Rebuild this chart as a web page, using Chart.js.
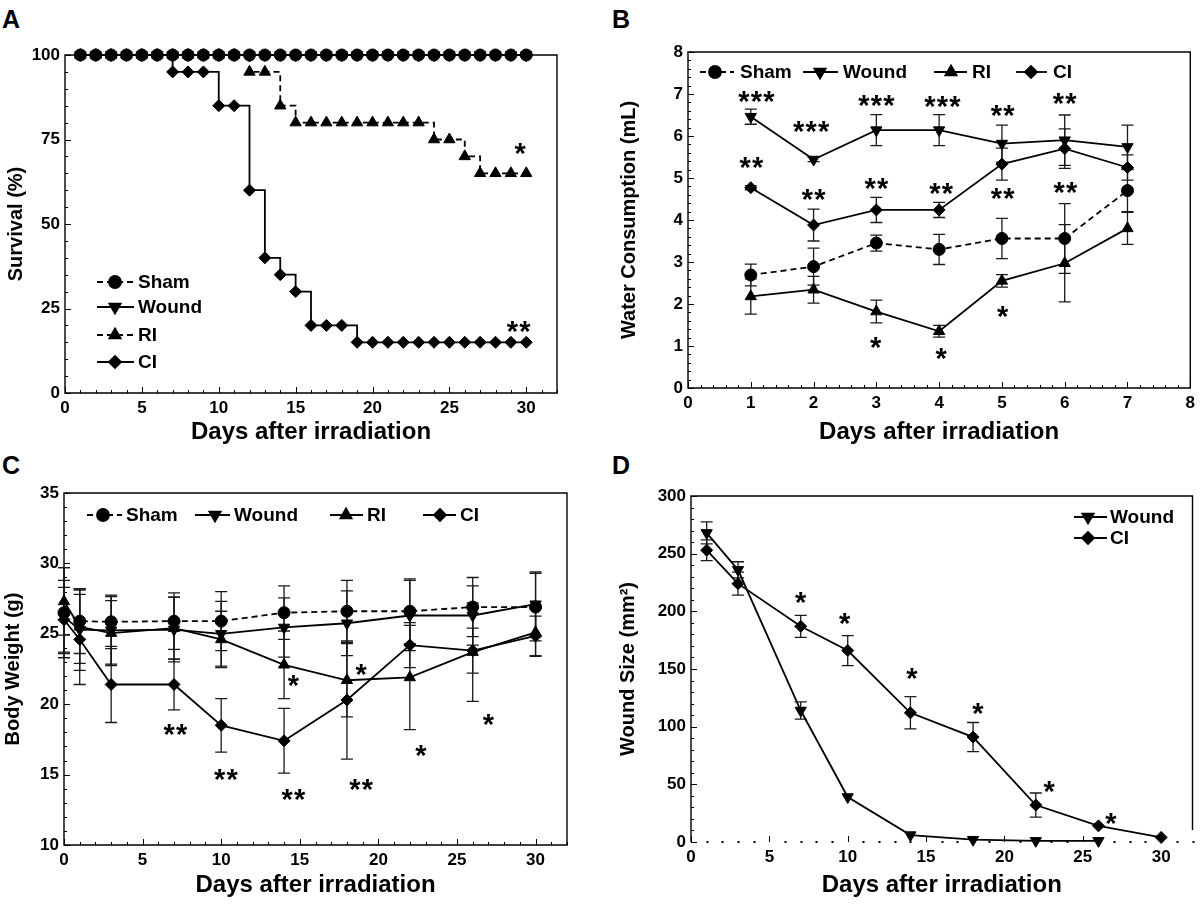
<!DOCTYPE html>
<html>
<head>
<meta charset="utf-8">
<script src="https://cdn.jsdelivr.net/npm/chart.js@4.4.1/dist/chart.umd.min.js"></script>
<style>
  body { margin: 0; background: #fff; width: 1200px; height: 905px; position: relative; overflow: hidden;
         font-family: "Liberation Sans", Arial, sans-serif; }
  canvas { position: absolute; }
  .tag { position: absolute; font-weight: bold; font-size: 25px; line-height: 25px; color: #000; }
</style>
</head>
<body>
<div class="tag" style="left:2px;top:7px">A</div>
<div class="tag" style="left:612px;top:7px">B</div>
<div class="tag" style="left:2px;top:453px">C</div>
<div class="tag" style="left:612px;top:453px">D</div>
<canvas id="cA" width="600" height="452" style="left:0;top:0"></canvas>
<canvas id="cB" width="600" height="452" style="left:600px;top:0"></canvas>
<canvas id="cC" width="600" height="453" style="left:0;top:452px"></canvas>
<canvas id="cD" width="600" height="453" style="left:600px;top:452px"></canvas>
<script>
const FONT = '"Liberation Sans", Arial, sans-serif';

// ---- A: survival (%) ----
const survDays  = [1, 2, 3, 4, 5, 6, 7, 8, 9, 10, 11, 12, 13, 14, 15, 16, 17, 18, 19, 20, 21, 22, 23, 24, 25, 26, 27, 28, 29, 30];
const survSham  = [100, 100, 100, 100, 100, 100, 100, 100, 100, 100, 100, 100, 100, 100, 100, 100, 100, 100, 100, 100, 100, 100, 100, 100, 100, 100, 100, 100, 100, 100];
const survWound = [100, 100, 100, 100, 100, 100, 100, 100, 100, 100, 100, 100, 100, 100, 100, 100, 100, 100, 100, 100, 100, 100, 100, 100, 100, 100, 100, 100, 100, 100];
const survRI    = [100, 100, 100, 100, 100, 100, 100, 100, 100, 100, 100, 95, 95, 85, 80, 80, 80, 80, 80, 80, 80, 80, 80, 75, 75, 70, 65, 65, 65, 65];
const survCI    = [100, 100, 100, 100, 100, 100, 95, 95, 95, 85, 85, 60, 40, 35, 30, 20, 20, 20, 15, 15, 15, 15, 15, 15, 15, 15, 15, 15, 15, 15];
const survTicksX = [0, 5, 10, 15, 20, 25, 30];
const survTicksY = [0, 25, 50, 75, 100];
const survStars = [[29.6, 72.8, '*'], [29.5, 20.2, '**']];

// ---- B: water consumption (mL) ----
const waterDays = [1, 2, 3, 4, 5, 6, 7];
const waterSham     = [2.69, 2.89, 3.45, 3.30, 3.56, 3.56, 4.70];
const waterShamErr  = [0.26, 0.44, 0.19, 0.36, 0.48, 0.83, 0.50];
const waterWound    = [6.46, 5.44, 6.14, 6.14, 5.82, 5.90, 5.74];
const waterWoundErr = [0.18, 0.05, 0.37, 0.37, 0.44, 0.60, 0.52];
const waterRI       = [2.18, 2.34, 1.82, 1.35, 2.55, 2.97, 3.80];
const waterRIErr    = [0.42, 0.32, 0.27, 0.14, 0.15, 0.92, 0.38];
const waterCI       = [4.77, 3.88, 4.24, 4.24, 5.33, 5.70, 5.25];
const waterCIErr    = [0.05, 0.38, 0.30, 0.18, 0.38, 0.47, 0.30];
const waterTicksX = [0, 1, 2, 3, 4, 5, 6, 7, 8];
const waterTicksY = [0, 1, 2, 3, 4, 5, 6, 7, 8];
const waterStars = [
  [1.09, 6.97, '***'], [1.96, 6.26, '***'], [3.0, 6.89, '***'], [4.05, 6.85, '***'], [5.01, 6.65, '**'], [6.0, 6.93, '**'],
  [1.01, 5.41, '**'], [2.0, 4.65, '**'], [3.0, 4.91, '**'], [4.03, 4.78, '**'], [5.01, 4.67, '**'], [6.01, 4.81, '**'],
  [2.99, 1.11, '*'], [4.03, 0.85, '*'], [5.01, 1.86, '*']
];

// ---- C: body weight (g) ----
const weightDays = [0, 1, 3, 7, 10, 14, 18, 22, 26, 30];
const weightSham     = [26.5, 25.9, 25.85, 25.9, 25.9, 26.5, 26.6, 26.6, 26.9, 26.9];
const weightShamErr  = [3.2, 2.3, 1.9, 2.0, 2.1, 1.9, 2.2, 2.3, 2.1, 2.4];
const weightWound    = [26.2, 25.3, 25.25, 25.3, 25.0, 25.45, 25.75, 26.3, 26.3, 27.1];
const weightWoundErr = [2.6, 2.9, 2.4, 2.3, 2.3, 2.1, 2.3, 2.5, 2.1, 2.3];
const weightRI       = [27.3, 25.5, 25.05, 25.4, 24.6, 22.8, 21.7, 21.9, 23.7, 25.1];
const weightRIErr    = [2.4, 2.6, 2.3, 2.2, 2.0, 2.4, 2.6, 3.7, 3.5, 1.7];
const weightCI       = [26.0, 24.6, 21.4, 21.4, 18.5, 17.4, 20.3, 24.2, 23.8, 24.85];
const weightCIErr    = [2.3, 3.2, 2.7, 1.8, 1.9, 2.3, 4.2, 1.6, 1.6, 1.4];
const weightTicksX = [0, 5, 10, 15, 20, 25, 30];
const weightTicksY = [10, 15, 20, 25, 30, 35];
const weightStars = [
  [7.08, 18.3, '**'], [10.3, 15.1, '**'], [14.6, 13.7, '**'], [18.9, 14.4, '**'],
  [14.6, 21.8, '*'], [18.9, 22.6, '*'], [22.7, 16.8, '*'], [27.0, 19.0, '*']
];

// ---- D: wound size (mm2) ----
const woundDaysW = [1, 3, 7, 10, 14, 18, 22, 26];
const woundWound    = [268, 236, 114, 39, 6, 2, 1, 1];
const woundWoundErr = [9.5, 7, 7.5, 0, 0, 0, 0, 0];
const woundDaysC = [1, 3, 7, 10, 14, 18, 22, 26, 30];
const woundCI       = [253, 224, 187, 166, 112, 91, 32, 14, 4];
const woundCIErr    = [9, 10, 9.5, 13, 14, 12.6, 10.5, 0, 0];
const woundTicksX = [0, 5, 10, 15, 20, 25, 30];
const woundTicksY = [0, 50, 100, 150, 200, 250, 300];
const woundStars = [[7.0, 213, '*'], [9.8, 195, '*'], [14.1, 147, '*'], [18.3, 117, '*'], [22.85, 49, '*'], [26.8, 22, '*']];

const INK = '#000';
const MARK = {
  Sham:  { pointStyle: 'circle',   rotation: 0,   r: 6 },
  Wound: { pointStyle: 'triangle', rotation: 180, r: 6.5 },
  RI:    { pointStyle: 'triangle', rotation: 0,   r: 6.5 },
  CI:    { pointStyle: 'rectRot',  rotation: 0,   r: 6 }
};
const DASH = [6, 4];

function ds(name, xs, ys, errs, dashed, extra) {
  const m = MARK[name];
  return Object.assign({
    label: name,
    data: xs.map((x, i) => ({ x: x, y: ys[i] })),
    errors: errs,
    borderColor: INK, backgroundColor: INK,
    pointBorderColor: INK, pointBackgroundColor: INK,
    borderWidth: 1.8,
    borderDash: dashed ? DASH : [],
    pointStyle: m.pointStyle, pointRotation: m.rotation,
    pointRadius: m.r, pointBorderWidth: 1,
    tension: 0, clip: false
  }, extra || {});
}

function xAxis(min, max, vals, height, tPad) {
  return {
    type: 'linear', min: min, max: max,
    grid: { display: false, drawTicks: false }, border: { display: false },
    afterBuildTicks: s => { s.ticks = vals.map(v => ({ value: v })); },
    afterFit: s => { s.height = height; },
    ticks: { color: INK, font: { family: FONT, size: 17, weight: 'bold' }, padding: 5, maxRotation: 0, autoSkip: false },
    title: { display: true, text: 'Days after irradiation', color: INK,
             font: { family: FONT, size: 24, weight: 'bold' }, padding: { top: 0, bottom: tPad } }
  };
}

function yAxis(min, max, vals, width, title, tPad) {
  return {
    type: 'linear', min: min, max: max,
    grid: { display: false, drawTicks: false }, border: { display: false },
    afterBuildTicks: s => { s.ticks = vals.map(v => ({ value: v })); },
    afterFit: s => { s.width = width; },
    ticks: { color: INK, font: { family: FONT, size: 17, weight: 'bold' }, padding: 5, autoSkip: false },
    title: { display: true, text: title, color: INK,
             font: { family: FONT, size: 20, weight: 'bold' }, padding: { top: tPad, bottom: 0 } }
  };
}

// frame, inward ticks, error bars, legend and asterisks
function overlay(p) {
  return {
    id: 'overlay',
    beforeDatasetsDraw(chart) {
      const ctx = chart.ctx, a = chart.chartArea;
      const xs = chart.scales.x, ys = chart.scales.y;
      ctx.save();
      ctx.strokeStyle = INK;
      ctx.lineWidth = 1.4;
      ctx.beginPath();
      if (p.openFrame) {
        ctx.moveTo(a.left, a.bottom); ctx.lineTo(a.left, a.top); ctx.lineTo(a.right, a.top); ctx.lineTo(a.right, a.bottom - 12);
      } else {
        ctx.rect(a.left, a.top, a.right - a.left, a.bottom - a.top);
      }
      ctx.stroke();

      ctx.lineWidth = 1;
      const steps = (min, max, st) => { const out = []; for (let k = 0; min + k * st <= max + 1e-9; k++) out.push(min + k * st); return out; };
      const isMajor = (v, mj) => Math.abs(v / mj - Math.round(v / mj)) < 1e-6;
      steps(xs.min, xs.max, p.minorX).forEach(v => {
        const px = Math.round(xs.getPixelForValue(v)) + 0.5;
        const major = isMajor(v, p.majorX);
        if (p.openFrame && !major) {
          ctx.fillStyle = INK; ctx.fillRect(px - 1, a.bottom - 1, 2, 2);
          return;
        }
        ctx.beginPath(); ctx.moveTo(px, a.bottom); ctx.lineTo(px, a.bottom - (major ? 6 : 3)); ctx.stroke();
      });
      steps(ys.min, ys.max, p.minorY).forEach(v => {
        const py = Math.round(ys.getPixelForValue(v)) + 0.5;
        const major = isMajor(v - ys.min, p.majorY);
        ctx.beginPath(); ctx.moveTo(a.left, py); ctx.lineTo(a.left + (major ? 6 : 3), py); ctx.stroke();
      });

      // error bars
      ctx.strokeStyle = '#1a1a1a';
      ctx.lineWidth = 1.3;
      chart.data.datasets.forEach((d, i) => {
        if (!d.errors) return;
        const meta = chart.getDatasetMeta(i);
        d.data.forEach((pt, j) => {
          const e = d.errors[j];
          if (!e) return;
          const x = meta.data[j].x;
          const y1 = ys.getPixelForValue(pt.y + e), y2 = ys.getPixelForValue(pt.y - e);
          ctx.beginPath();
          ctx.moveTo(x, y1); ctx.lineTo(x, y2);
          ctx.moveTo(x - 6, y1); ctx.lineTo(x + 6, y1);
          ctx.moveTo(x - 6, y2); ctx.lineTo(x + 6, y2);
          ctx.stroke();
        });
      });
      ctx.restore();
    },
    afterDraw(chart) {
      const ctx = chart.ctx;
      const xs = chart.scales.x, ys = chart.scales.y;
      ctx.save();
      // legend
      p.legend.forEach(it => {
        const m = MARK[it.name];
        ctx.strokeStyle = INK; ctx.fillStyle = INK; ctx.lineWidth = 1.8;
        ctx.setLineDash(it.dashed ? DASH : []);
        ctx.beginPath(); ctx.moveTo(it.x0, it.y); ctx.lineTo(it.x1, it.y); ctx.stroke();
        ctx.setLineDash([]);
        Chart.helpers.drawPoint(ctx, { pointStyle: m.pointStyle, rotation: m.rotation, radius: m.r, borderWidth: 1 }, it.m, it.y);
        ctx.font = 'bold 19px ' + FONT;
        ctx.textBaseline = 'middle'; ctx.textAlign = 'left';
        ctx.fillText(it.name, it.t, it.y + 1);
      });
      // significance marks
      ctx.font = 'bold 29px ' + FONT;
      ctx.textAlign = 'center'; ctx.textBaseline = 'alphabetic';
      p.stars.forEach(s => {
        const cx = xs.getPixelForValue(s[0]), cy = ys.getPixelForValue(s[1]);
        const n = s[2].length;
        for (let k = 0; k < n; k++) ctx.fillText('*', cx + (k - (n - 1) / 2) * 12.5, cy + 16);
      });
      ctx.restore();
    }
  };
}

function panel(id, datasets, scales, pad, p) {
  return new Chart(document.getElementById(id), {
    type: 'line',
    data: { datasets: datasets },
    options: {
      responsive: false, animation: false, devicePixelRatio: 1,
      layout: { padding: { top: pad.top, right: pad.right, left: 0, bottom: 0 } },
      plugins: { legend: { display: false }, tooltip: { enabled: false } },
      scales: scales
    },
    plugins: [overlay(p)]
  });
}

// A
panel('cA', [
  ds('Sham', survDays, survSham, null, true, { stepped: true }),
  ds('Wound', survDays, survWound, null, false, { stepped: true }),
  ds('RI', survDays, survRI, null, true, { stepped: true }),
  ds('CI', survDays, survCI, null, false, { stepped: true })
], {
  x: xAxis(0, 32, survTicksX, 59, 5),
  y: yAxis(0, 100, survTicksY, 65, 'Survival (%)', 4)
}, { top: 55, right: 43 }, {
  minorX: 1, majorX: 5, minorY: 5, majorY: 25, stars: survStars,
  legend: [
    { name: 'Sham', dashed: true, x0: 97, x1: 134, m: 115, t: 138, y: 282 },
    { name: 'Wound', dashed: false, x0: 97, x1: 134, m: 115, t: 138, y: 307 },
    { name: 'RI', dashed: true, x0: 97, x1: 134, m: 115, t: 138, y: 335 },
    { name: 'CI', dashed: false, x0: 97, x1: 134, m: 115, t: 138, y: 362 }
  ]
});

// B
panel('cB', [
  ds('Sham', waterDays, waterSham, waterShamErr, true),
  ds('Wound', waterDays, waterWound, waterWoundErr, false),
  ds('RI', waterDays, waterRI, waterRIErr, false),
  ds('CI', waterDays, waterCI, waterCIErr, false)
], {
  x: xAxis(0, 8, waterTicksX, 64, 5),
  y: yAxis(0, 8, waterTicksY, 88, 'Water Consumption (mL)', 17)
}, { top: 52, right: 3 }, {
  minorX: 0.2, majorX: 1, minorY: 0.2, majorY: 1, stars: waterStars,
  legend: [
    { name: 'Sham', dashed: true, x0: 100, x1: 134, m: 115, t: 140, y: 72 },
    { name: 'Wound', dashed: false, x0: 203, x1: 238, m: 220, t: 243, y: 72 },
    { name: 'RI', dashed: false, x0: 334, x1: 367, m: 351, t: 372, y: 72 },
    { name: 'CI', dashed: false, x0: 416, x1: 447, m: 431, t: 453, y: 72 }
  ]
});

// C
panel('cC', [
  ds('Sham', weightDays, weightSham, weightShamErr, true),
  ds('Wound', weightDays, weightWound, weightWoundErr, false),
  ds('RI', weightDays, weightRI, weightRIErr, false),
  ds('CI', weightDays, weightCI, weightCIErr, false)
], {
  x: xAxis(0, 32, weightTicksX, 60, 5),
  y: yAxis(10, 35, weightTicksY, 64, 'Body Weight (g)', 1)
}, { top: 41, right: 33 }, {
  minorX: 1, majorX: 5, minorY: 1, majorY: 5, stars: weightStars,
  legend: [
    { name: 'Sham', dashed: true, x0: 87, x1: 122, m: 103, t: 126, y: 63 },
    { name: 'Wound', dashed: false, x0: 195, x1: 230, m: 215, t: 234, y: 63 },
    { name: 'RI', dashed: false, x0: 330, x1: 363, m: 346, t: 367, y: 63 },
    { name: 'CI', dashed: false, x0: 423, x1: 456, m: 440, t: 460, y: 63 }
  ]
});

// D
panel('cD', [
  ds('Wound', woundDaysW, woundWound, woundWoundErr, false),
  ds('CI', woundDaysC, woundCI, woundCIErr, false)
], {
  x: xAxis(0, 32, woundTicksX, 63, 5),
  y: yAxis(0, 300, woundTicksY, 91, 'Wound Size (mm²)', 16)
}, { top: 44, right: 5 }, {
  minorX: 1, majorX: 5, minorY: 10, majorY: 50, stars: woundStars, openFrame: true,
  legend: [
    { name: 'Wound', dashed: false, x0: 474, x1: 507, m: 488, t: 510, y: 65 },
    { name: 'CI', dashed: false, x0: 474, x1: 507, m: 488, t: 510, y: 86 }
  ]
});
</script>
</body>
</html>
